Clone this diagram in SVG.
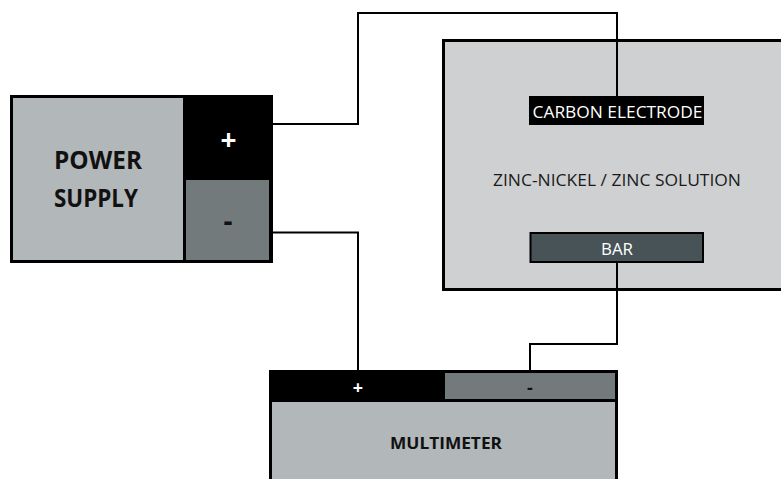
<svg xmlns="http://www.w3.org/2000/svg" width="781" height="479" viewBox="0 0 781 479">
<style>
text{font-family:"Open Sans","Noto Sans","Liberation Sans",sans-serif;text-anchor:middle}
.wire{fill:none;stroke:#000;stroke-width:2}
.light{fill:#b2b7b9}
.mid{fill:#727a7b}
.blk{fill:#000}
</style>
<rect width="781" height="479" fill="#fff"/>
<g id="cell">
<rect x="443.500" y="40.500" width="340" height="249" fill="#cfd0d2" stroke="#000" stroke-width="3"/>
<text x="617" y="186" font-size="16.800" fill="#1a1a1a" textLength="248" lengthAdjust="spacingAndGlyphs">ZINC-NICKEL / ZINC SOLUTION</text>
</g>
<g id="connectors">
<path class="wire" d="M272 124H358V13H617V96"/>
<path class="wire" d="M272 232.500H358V370"/>
<path class="wire" d="M617 263V344H530V370"/>
</g>
<g id="power-supply">
<rect x="10" y="95" width="263" height="168" class="blk"/>
<rect x="13" y="98" width="170" height="162" class="light"/>
<rect x="186" y="180" width="83" height="80" class="mid"/>
<text font-size="25" font-weight="700" fill="#111" x="98" y="169" textLength="88" lengthAdjust="spacingAndGlyphs">POWER</text>
<text font-size="25" font-weight="700" fill="#111" x="96" y="206.500" textLength="84" lengthAdjust="spacingAndGlyphs">SUPPLY</text>
<text font-size="28" font-weight="700" fill="#fff" x="228.500" y="150">+</text>
<text font-size="28" font-weight="700" fill="#111" x="228" y="231">-</text>
</g>
<g id="carbon-electrode">
<rect x="529" y="96" width="175" height="29" class="blk"/>
<text x="617.500" y="117.500" font-size="16.800" fill="#fff" textLength="170" lengthAdjust="spacingAndGlyphs">CARBON ELECTRODE</text>
</g>
<g id="bar">
<rect x="530.500" y="233" width="172.500" height="29" fill="#475356" stroke="#000" stroke-width="2"/>
<text x="617" y="255" font-size="16.800" fill="#fff" textLength="32" lengthAdjust="spacingAndGlyphs">BAR</text>
</g>
<g id="multimeter">
<rect x="269" y="370" width="349" height="109" class="blk"/>
<rect x="445" y="373" width="170" height="26" class="mid"/>
<rect x="272" y="402" width="343" height="77" class="light"/>
<text x="358" y="394" font-size="18" font-weight="700" fill="#fff">+</text>
<text x="530" y="393.500" font-size="18" font-weight="700" fill="#111">-</text>
<text x="446" y="448.700" font-size="16.800" font-weight="700" fill="#111" textLength="112" lengthAdjust="spacingAndGlyphs">MULTIMETER</text>
</g>
</svg>
